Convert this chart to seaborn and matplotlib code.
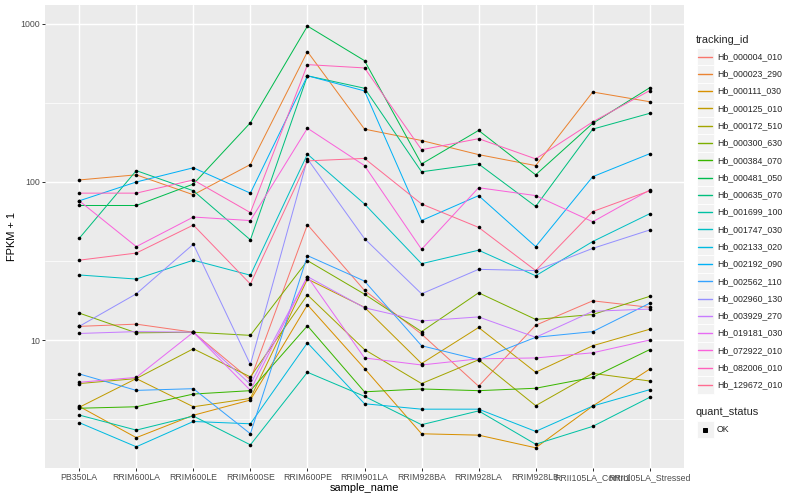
import numpy as np
import pandas as pd
import matplotlib
matplotlib.use("Agg")
import matplotlib.pyplot as plt
import seaborn as sns
from matplotlib.ticker import FixedLocator, NullFormatter
from matplotlib.lines import Line2D
from matplotlib.patches import Rectangle

# samples on the x axis
samples = ["PB350LA", "RRIM600LA", "RRIM600LE", "RRIM600SE", "RRIM600PE",
           "RRIM901LA", "RRIM928BA", "RRIM928LA", "RRIM928LB",
           "RRII105LA_Control", "RRII105LA_Stressed"]

tracking_ids = ["Hb_000004_010", "Hb_000023_290", "Hb_000111_030", "Hb_000125_010",
                "Hb_000172_510", "Hb_000300_630", "Hb_000384_070", "Hb_000481_050",
                "Hb_000635_070", "Hb_001699_100", "Hb_001747_030", "Hb_002133_020",
                "Hb_002192_090", "Hb_002562_110", "Hb_002960_130", "Hb_003929_270",
                "Hb_019181_030", "Hb_072922_010", "Hb_082006_010", "Hb_129672_010"]

# FPKM + 1 per gene, one value per sample
hb_000004_010 = [12.2, 12.6, 11.2, 5.6, 53.7, 20.6, 10.9, 5.1, 12.4, 17.7, 16.1]
hb_000023_290 = [103, 111, 83, 129, 668, 216, 183, 149, 127, 371, 322]
hb_000111_030 = [3.8, 2.41, 3.34, 4.17, 16.7, 6.6, 2.55, 2.5, 2.08, 3.82, 6.55]
hb_000125_010 = [3.75, 5.7, 3.78, 4.27, 24.3, 16.1, 7.1, 12.0, 6.25, 9.2, 11.7]
hb_000172_510 = [5.3, 5.7, 8.8, 5.84, 19.3, 8.7, 5.3, 7.5, 3.84, 6.15, 5.5]
hb_000300_630 = [14.8, 11.1, 11.2, 10.7, 31.8, 19.5, 11.3, 19.9, 13.5, 14.5, 18.9]
hb_000384_070 = [3.7, 3.78, 4.55, 4.78, 12.3, 4.7, 4.9, 4.78, 4.95, 5.8, 8.7]
hb_000481_050 = [71, 71, 97, 237, 970, 586, 130, 212, 111, 235, 395]
hb_000635_070 = [44, 118, 88, 43, 470, 392, 116, 130, 70, 216, 272]
hb_001699_100 = [3.35, 2.69, 3.3, 2.17, 6.25, 4.4, 2.91, 3.56, 2.19, 2.84, 4.34]
hb_001747_030 = [25.8, 24.3, 32, 25.7, 150, 72.6, 30.4, 37, 25.5, 42, 63]
hb_002133_020 = [3.0, 2.11, 3.05, 2.95, 9.6, 3.95, 3.65, 3.65, 2.64, 3.82, 4.85]
hb_002192_090 = [76, 100, 123, 85, 470, 377, 57, 82, 39, 108, 151]
hb_002562_110 = [6.1, 4.8, 4.92, 2.55, 34.2, 23.6, 9.2, 7.5, 10.4, 11.3, 17.1]
hb_002960_130 = [12.2, 19.6, 40.4, 7.0, 140, 43.8, 19.6, 28, 27.5, 38, 49.7]
hb_003929_270 = [11.0, 11.3, 11.2, 5.25, 25.2, 16.0, 13.2, 14.0, 10.4, 15.2, 15.7]
hb_019181_030 = [5.4, 5.8, 11.2, 4.8, 25.2, 7.7, 6.95, 7.6, 7.7, 8.3, 10.0]
hb_072922_010 = [76, 39, 60, 57, 219, 127, 37.5, 92, 82, 56, 89]
hb_082006_010 = [85, 85, 103, 64, 553, 527, 160, 188, 140, 240, 379]
hb_129672_010 = [32, 35.5, 53.4, 22.6, 136, 141, 72.6, 51.6, 27.5, 65, 88]

series = [hb_000004_010, hb_000023_290, hb_000111_030, hb_000125_010, hb_000172_510,
          hb_000300_630, hb_000384_070, hb_000481_050, hb_000635_070, hb_001699_100,
          hb_001747_030, hb_002133_020, hb_002192_090, hb_002562_110, hb_002960_130,
          hb_003929_270, hb_019181_030, hb_072922_010, hb_082006_010, hb_129672_010]

# ggplot hue palette for 20 levels
palette = ["#F8766D", "#EA8331", "#D89000", "#C09B00", "#A3A500", "#7CAE00", "#39B600",
           "#00BB4E", "#00BF7D", "#00C1A3", "#00BFC4", "#00BAE0", "#00B0F6", "#35A2FF",
           "#9590FF", "#C77CFF", "#E76BF3", "#FA62DB", "#FF62BC", "#FF6C91"]

rows = []
for tid, vals in zip(tracking_ids, series):
    for i, v in enumerate(vals):
        rows.append((tid, samples[i], i, v))
df = pd.DataFrame(rows, columns=["tracking_id", "sample_name", "pos", "fpkm1"])
df["quant_status"] = "OK"

sns.set_theme(style="darkgrid", rc={"axes.facecolor": "#EBEBEB", "grid.color": "white"})
plt.rcParams["font.family"] = ["Liberation Sans", "DejaVu Sans"]

W, H = 800, 500
fig = plt.figure(figsize=(W / 72, H / 72), dpi=72)
fig.patch.set_facecolor("white")


def px(x, y):
    return x / W, 1 - y / H


ax = fig.add_axes([45 / W, 1 - 468 / H, (684 - 45) / W, (468 - 5) / H])

sns.lineplot(data=df, x="pos", y="fpkm1", hue="tracking_id", hue_order=tracking_ids,
             palette=palette, estimator=None, sort=False, legend=False, lw=1.0, ax=ax)
sns.scatterplot(data=df, x="pos", y="fpkm1", color="black", s=13, linewidth=0,
                legend=False, ax=ax, zorder=5)

ax.set_yscale("log")
ax.set_ylim(10 ** 0.19, 10 ** 3.12)
ax.set_xlim(-0.6, len(samples) - 0.4)
ax.set_xticks(range(len(samples)))
ax.set_xticklabels(samples)
ax.set_yticks([10, 100, 1000])
ax.set_yticklabels(["10", "100", "1000"])
ax.yaxis.set_minor_locator(FixedLocator([10 ** 0.5, 10 ** 1.5, 10 ** 2.5]))
ax.yaxis.set_minor_formatter(NullFormatter())

ax.grid(which="major", color="white", lw=1.42)
ax.grid(which="minor", axis="y", color="white", lw=0.71)
ax.set_axisbelow(True)
for sp in ax.spines.values():
    sp.set_visible(False)
ax.tick_params(which="minor", length=0)
ax.tick_params(which="major", length=2.75, width=1.0, color="#333333",
               labelsize=8.8, labelcolor="#4D4D4D", pad=2.2, bottom=True, left=True)

ax.set_xlabel("sample_name", fontsize=11, color="black")
ax.set_ylabel("FPKM + 1", fontsize=11, color="black")
ax.xaxis.set_label_coords(0.5, (468 - 488) / 463)
ax.xaxis.label.set_va("center")
ax.yaxis.set_label_coords((12 - 45) / 639, 0.5)
ax.yaxis.label.set_va("center")

# legend: tracking_id
fig.text(*px(696, 40), "tracking_id", fontsize=11, va="center", ha="left")
key = 17.28
top = 48
for i, (tid, col) in enumerate(zip(tracking_ids, palette)):
    y0 = top + i * key
    fig.add_artist(Rectangle(px(696.5, y0 + key), key / W, key / H,
                             transform=fig.transFigure, facecolor="#F2F2F2",
                             edgecolor="white", lw=0.8, zorder=1))
    yc = y0 + key / 2
    fig.add_artist(Line2D([698 / W, 712 / W], [1 - yc / H, 1 - yc / H],
                          transform=fig.transFigure, color=col, lw=1.4, zorder=3))
    fig.text(*px(717, yc), tid, fontsize=8.8, va="center", ha="left")

# legend: quant_status
fig.text(*px(696, 412), "quant_status", fontsize=11, va="center", ha="left")
y0 = 421
fig.add_artist(Rectangle(px(696.5, y0 + key), key / W, key / H,
                         transform=fig.transFigure, facecolor="#F2F2F2",
                         edgecolor="white", lw=0.8, zorder=1))
yc = y0 + key / 2
fig.add_artist(Line2D([705 / W], [1 - yc / H], transform=fig.transFigure,
                      marker="s", ms=3.2, color="black", lw=0, zorder=3))
fig.text(*px(717, yc), "OK", fontsize=8.8, va="center", ha="left")

fig.savefig("out.png", dpi=72, facecolor="white")
